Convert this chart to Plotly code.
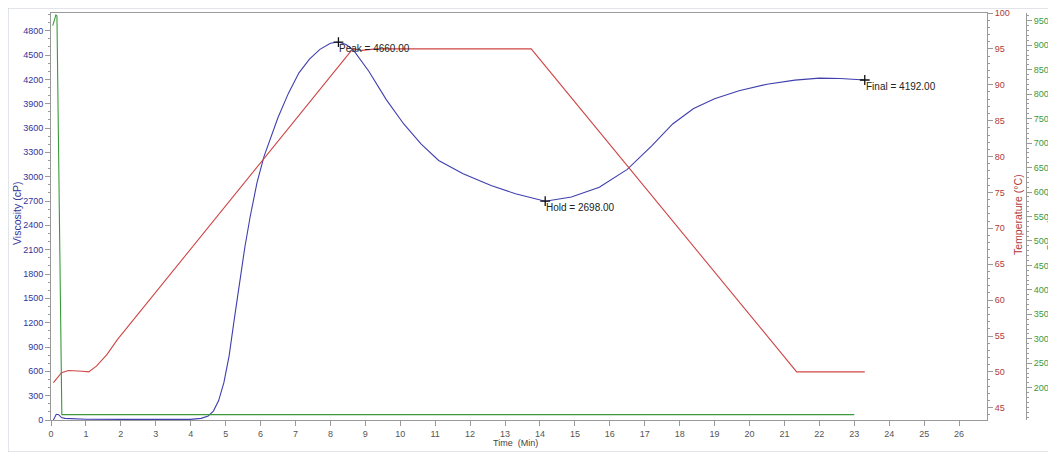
import plotly.graph_objects as go

# ---- data ----
visc_t = [0.07, 0.15, 0.22, 0.30, 0.40, 0.65, 1.0, 2.0, 3.0, 4.0, 4.3, 4.5, 4.65, 4.8, 4.95,
          5.1, 5.25, 5.4, 5.55, 5.7, 5.9, 6.1, 6.3, 6.5, 6.8, 7.1, 7.4, 7.7, 8.0, 8.23,
          8.45, 8.66, 9.1, 9.6, 10.1, 10.6, 11.1, 11.8, 12.6, 13.3, 14.15, 14.9, 15.7,
          16.5, 17.2, 17.8, 18.4, 19.0, 19.7, 20.5, 21.3, 22.0, 22.6, 23.3]
visc = [0, 70, 65, 30, 20, 15, 10, 8, 8, 8, 20, 50, 110, 240, 460,
        790, 1250, 1700, 2130, 2500, 2930, 3250, 3500, 3730, 4030, 4280, 4450, 4570, 4645, 4660,
        4630, 4560, 4300, 3950, 3650, 3400, 3200, 3035, 2890, 2790, 2698, 2750, 2870,
        3090, 3380, 3650, 3840, 3960, 4060, 4140, 4190, 4215, 4210, 4192]

temp_t = [0.07, 0.2, 0.3, 0.5, 0.7, 0.9, 1.08, 1.3, 1.6, 1.9, 8.64, 8.9, 9.3, 13.75, 21.35, 23.3]
temp = [48.5, 49.3, 49.9, 50.2, 50.2, 50.1, 50.0, 50.8, 52.4, 54.5, 95.0, 94.8, 95.0, 95.0, 50.0, 50.0]

speed_t = [0.05, 0.14, 0.17, 0.31, 23.0]
speed = [940, 962, 960, 145, 145]

marker_names = ["Peak", "Hold", "Final"]
marker_t = [8.23, 14.15, 23.3]
marker_v = [4660.00, 2698.00, 4192.00]

x_ticks = list(range(0, 27))
speed_ticks = list(range(200, 951, 50))

# ---- layout geometry (page pixels of the 1056x452 window; page body has an 8px margin) ----
OFF = 8
W, H = 1056 - OFF, 452 - OFF
PL, PR, PT, PB = 51, 987, 13, 420
def px(x): return (x - OFF) / W
def py(y): return 1 - (y - OFF) / H

BLUE = "#3f3fae"
RED = "#d04545"
GREEN = "#3a9a3a"
FONT = "Liberation Sans"

fig = go.Figure()
fig.add_trace(go.Scatter(x=visc_t, y=visc, mode="lines", line=dict(color=BLUE, width=1.1),
                         yaxis="y", showlegend=False, hoverinfo="skip"))
fig.add_trace(go.Scatter(x=temp_t, y=temp, mode="lines", line=dict(color=RED, width=1.1),
                         yaxis="y2", showlegend=False, hoverinfo="skip"))
fig.add_trace(go.Scatter(x=speed_t, y=speed, mode="lines", line=dict(color=GREEN, width=1.1),
                         yaxis="y3", showlegend=False, hoverinfo="skip"))
fig.add_trace(go.Scatter(x=marker_t, y=marker_v, mode="markers", yaxis="y",
                         marker=dict(symbol="cross-thin", size=7, line=dict(color="#111", width=1.3)),
                         showlegend=False, hoverinfo="skip"))

annotations = []
for n, t, v in zip(marker_names, marker_t, marker_v):
    annotations.append(dict(x=t, y=v, xref="x", yref="y", text=f"{n} = {v:.2f}",
                            showarrow=False, xanchor="left", yanchor="top", yshift=1, xshift=-1,
                            font=dict(family=FONT, size=10, color="#222")))
annotations += [
    dict(x=px(515), y=py(443), xref="paper", yref="paper", text="Time  (Min)", showarrow=False,
         font=dict(family=FONT, size=9, color="#444"), xanchor="center", yanchor="middle"),
    dict(x=px(17), y=py(214), xref="paper", yref="paper", text="Viscosity (cP)", showarrow=False,
         textangle=-90, font=dict(family=FONT, size=10.5, color="#333399"), xanchor="center", yanchor="middle"),
    dict(x=px(1018), y=py(215), xref="paper", yref="paper", text="Temperature (°C)", showarrow=False,
         textangle=-90, font=dict(family=FONT, size=10.5, color="#b03a3a"), xanchor="center", yanchor="middle"),
    dict(x=px(1051), y=py(222), xref="paper", yref="paper", text="Speed (rpm)", showarrow=False,
         textangle=-90, font=dict(family=FONT, size=10.5, color=GREEN), xanchor="center", yanchor="middle"),
]

AXC = "#9a9a9a"
fig.update_layout(
    width=W, height=H,
    margin=dict(l=0, r=0, t=0, b=0, pad=0, autoexpand=False),
    paper_bgcolor="white", plot_bgcolor="white",
    showlegend=False,
    xaxis=dict(domain=[px(PL), px(PR)], range=[0, 26.8], tickvals=x_ticks, automargin=False,
               ticks="outside", ticklen=5, tickcolor=AXC, showline=True, linecolor=AXC, mirror=True,
               showgrid=False, zeroline=False, tickfont=dict(family=FONT, size=9, color="#555")),
    yaxis=dict(domain=[py(PB), py(PT)], range=[0, 5018], dtick=300, tick0=0, automargin=False,
               ticks="outside", ticklen=5, tickcolor=AXC, showline=True, linecolor=AXC, mirror=True,
               showgrid=False, zeroline=False, tickfont=dict(family=FONT, size=9, color="#333399"),
               minor=dict(dtick=100, ticks="outside", ticklen=2, tickcolor=AXC)),
    yaxis2=dict(overlaying="y", side="right", anchor="x", range=[43.3, 100], dtick=5, tick0=0,
                automargin=False,
                ticks="outside", ticklen=5, tickcolor=AXC, showline=False,
                showgrid=False, zeroline=False, tickfont=dict(family=FONT, size=9, color="#b03a3a"),
                minor=dict(dtick=1, ticks="outside", ticklen=2, tickcolor=AXC)),
    yaxis3=dict(overlaying="y", side="right", anchor="free", position=px(1026), range=[134, 966],
                automargin=False, tickvals=speed_ticks,
                ticks="outside", ticklen=5, tickcolor=AXC, showline=True, linecolor=AXC,
                showgrid=False, zeroline=False, tickfont=dict(family=FONT, size=9, color=GREEN),
                minor=dict(dtick=10, ticks="outside", ticklen=2, tickcolor=AXC)),
    annotations=annotations,
    shapes=[dict(type="rect", xref="paper", yref="paper", x0=0, y0=0, x1=1, y1=1,
                 line=dict(color="#c4ccd6", width=1), layer="below")],
)

fig.write_html("out.html")
